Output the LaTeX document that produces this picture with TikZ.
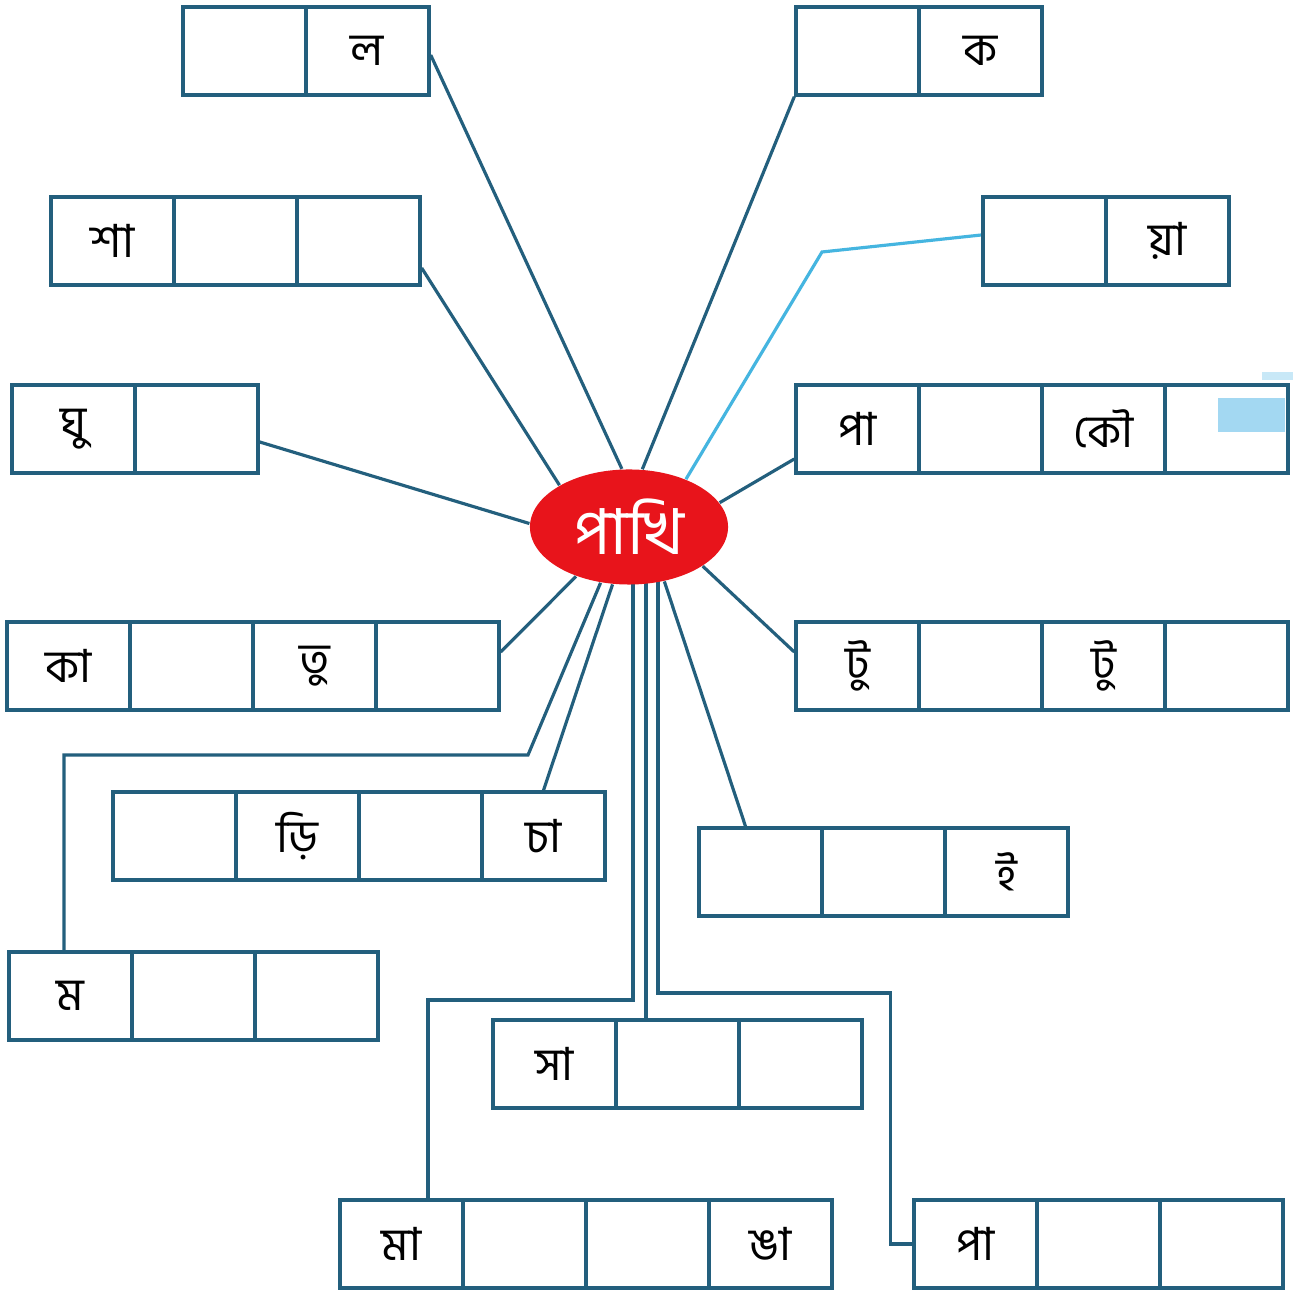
\documentclass[tikz,border=0pt]{standalone}
\usepackage{fontspec}
\newfontfamily\bn[Script=Bengali]{Hind Siliguri}
\usetikzlibrary{shapes.geometric,calc,backgrounds}
\definecolor{ln}{HTML}{235F7D}
\definecolor{lb}{HTML}{45B5E0}
\definecolor{rd}{HTML}{E8141B}
\definecolor{pale}{HTML}{A3D8F2}
\tikzset{
  cell/.style={draw=ln, line width=0.95pt, minimum width=1.23cm, minimum height=0.88cm,
    inner sep=0pt, font=\bn\fontsize{13}{13}\selectfont, text=black},
  conn/.style={draw=ln, line width=0.9pt},
  lconn/.style={draw=lb, line width=0.9pt},
  hub/.style={ellipse, fill=rd, minimum width=1.98cm, minimum height=1.15cm, inner sep=0pt,
    text=white, font=\bn\fontsize{18}{18}\selectfont},
}
\newcommand\mkrow[4]{\foreach \t [count=\i] in {#4} {\node[cell] (#1\i) at ({#2+61.5+(\i-1)*123},{#3+44}) {\t};}}
\begin{document}
\begin{tikzpicture}[x=0.01cm,y=-0.01cm]
\useasboundingbox (0,0) rectangle (1293,1292);

\node[hub] (P) at (629,527) {পাখি};

\mkrow{L}{183}{7}{{},ল}
\mkrow{K}{796}{7}{{},ক}
\mkrow{S}{51}{197}{শা,{},{}}
\mkrow{Y}{983}{197}{{},য়া}
\mkrow{G}{12}{385}{ঘু,{}}
\mkrow{Q}{796}{385}{পা,{},কৌ,{}}
\mkrow{T}{7}{622}{কা,{},তু,{}}
\mkrow{U}{796}{622}{টু,{},টু,{}}
\mkrow{D}{113}{792}{{},ড়ি,{},চা}
\mkrow{I}{699}{828}{{},{},ই}
\mkrow{M}{9}{952}{ম,{},{}}
\mkrow{A}{493}{1020}{সা,{},{}}
\mkrow{B}{340}{1200}{মা,{},{},ঙা}
\mkrow{C}{914}{1200}{পা,{},{}}

\fill[pale] (1218,398) rectangle (1285,432);
\fill[pale!60] (1262,372) rectangle (1293,380);

\coordinate (yb) at (822,252);
\coordinate (mb) at (528,755);
\coordinate (v1) at ($(P.center)+(4,0)$);
\coordinate (v2) at ($(P.center)+(17,0)$);
\coordinate (v3) at ($(P.center)+(29,0)$);

\begin{scope}[on background layer]
\fill[white] (0,0) rectangle (1293,1292);
\draw[conn] ($(L2.east)+(0,4)$) -- (P.97);
\draw[conn] (K1.south west) -- (P.77);
\draw[conn] ($(S3.east)+(0,27)$) -- (P.149);
\draw[conn] ($(G2.east)+(0,13)$) -- (P.178);
\draw[lconn] ($(Y1.west)+(0,-6)$) -- (yb) -- (P.40);
\draw[conn] ($(Q1.west)+(0,30)$) -- (P.15);
\draw[conn] ($(T4.east)+(0,-14)$) -- (P.223);
\draw[conn] ($(U1.west)+(0,-14)$) -- (P.332);
\draw[conn] (D4.north) -- (P.254);
\draw[conn] ($(I1.north)+(-15,0)$) -- (P.303);
\draw[conn] (P.243) -- (mb) -| ($(M1.north)+(-6.5,0)$);
\draw[conn] (v1) -- ++(0,473) -| ($(B1.north)+(26.5,0)$);
\draw[conn] (v2) -- (v2 |- A2.north);
\draw[conn] (v3) -- ++(0,466) -| ($(C1.west)+(-22,0)$) -- (C1.west);
\end{scope}
\end{tikzpicture}
\end{document}
